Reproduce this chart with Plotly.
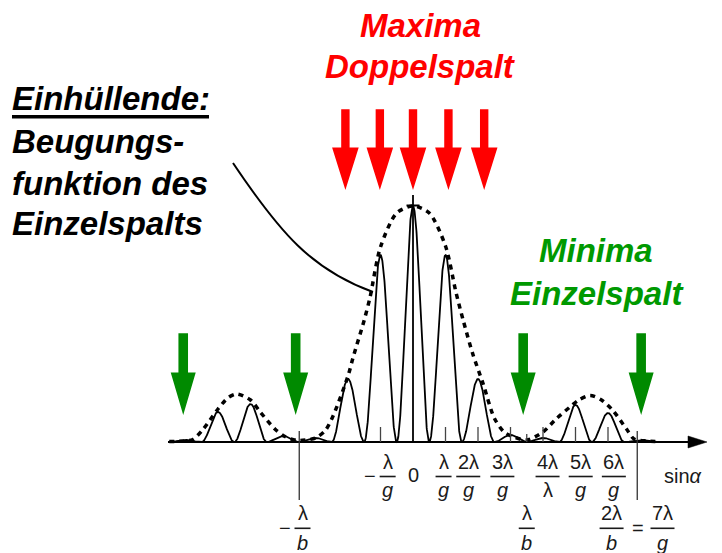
import numpy as np
import plotly.graph_objects as go

# ---------------- data ----------------
# horizontal unit: lambda/g (sin(alpha) * g / lambda); g/b = 3.5  ->  lambda/b = 3.5 lambda/g
fringe_order = [-7, -6, -5, -4, -3, -2, -1, 0, 1, 2, 3, 4, 5, 6, 7]
fringe_height = [2, 30, 38, 6, 4, 63, 187, 236, 187, 63, 7, 4, 37, 29, 2]

envelope_x = [-7.5, -7.0, -6.77, -6.45, -6.0, -5.7, -5.43, -5.0, -4.7, -4.25,
              -3.94, -3.58, -3.3, -3.0, -2.7, -2.46, -2.0, -1.84, -1.5, -1.32,
              -1.0, -0.5, 0.0, 0.5, 1.0, 1.32, 1.55, 1.84, 2.16, 2.5,
              2.8, 3.1, 3.5, 4.0, 4.4, 4.83, 5.1, 5.45, 5.8, 6.15,
              6.57, 6.8, 7.2, 7.5]
envelope_y = [0.5, 1, 2.5, 13, 33, 44, 48, 42, 30, 13,
              5.5, 1.5, 2, 4, 11.5, 26, 66, 85, 122, 145,
              195, 229, 236, 229, 196, 150, 121, 88, 58, 24,
              10, 5, 2, 10, 23, 35, 42, 46.5, 42, 31.5,
              13, 3, 1, 0.5]

tick_vals = [-1, 1, 2, 3, 4, 5, 6]
minima_lines = [-3.5, 6.9]          # -lambda/b and 2lambda/b = 7lambda/g
short_tick = [3.5]                   # lambda/b

red_arrow_x = [-2.08, -1.02, 0.0, 1.09, 2.19]     # maxima double slit
green_arrow_x = [-7.07, -3.61, 3.39, 7.02]        # minima single slit

upper_sign = ["\u2212", "", "", "", "", "", "", ""]
upper_num = ["\u03bb", "0", "\u03bb", "2\u03bb", "3\u03bb", "4\u03bb", "5\u03bb", "6\u03bb"]
upper_den = ["g", "", "g", "g", "g", "\u03bb", "g", "g"]
upper_pos = [-0.78, 0.03, 0.94, 1.70, 2.75, 4.14, 5.16, 6.18]

lower_sign = ["\u2212", "", ""]
lower_num = ["\u03bb", "\u03bb", "2\u03bb"]
lower_den = ["b", "b", "b"]
lower_pos = [-3.4, 3.50, 6.11]

# ---------------- geometry helpers (pixel <-> data) ----------------
X0, S, Y0 = 413.0, 32.5, 442.0
W, H = 722, 553
OFF = 8  # page body margin: figure pixel 0 sits at screen pixel 8


def U(px):
    return (px - X0) / S


def V(py):
    return Y0 - py


FONT = "Liberation Sans, Arial, sans-serif"

fig = go.Figure()

# solid intensity curve: each fringe drawn as a cos^2 bump of its read height
xs = np.linspace(-7.5, 7.5, 3001)
ys = np.zeros_like(xs)
for k, h in zip(fringe_order, fringe_height):
    m = np.abs(xs - k) <= 0.5
    ys[m] = h * np.cos(np.pi * (xs[m] - k)) ** 2
fig.add_trace(go.Scatter(x=xs, y=ys, mode="lines",
                         line=dict(color="black", width=1.8), hoverinfo="skip"))

# dashed envelope
fig.add_trace(go.Scatter(x=envelope_x, y=envelope_y, mode="lines",
                         line=dict(color="black", width=3.5, dash="5px,5px",
                                   shape="spline", smoothing=0.8),
                         hoverinfo="skip"))

shapes = []
# horizontal axis with arrow
shapes.append(dict(type="line", x0=U(168), x1=U(692), y0=0, y1=0,
                   line=dict(color="black", width=2)))
shapes.append(dict(type="path",
                   path=f"M {U(707)},0 L {U(688)},6 L {U(688)},-6 Z",
                   fillcolor="black", line=dict(color="black", width=0.5)))
for t in tick_vals:
    shapes.append(dict(type="line", x0=t, x1=t, y0=0, y1=15,
                       line=dict(color="#444", width=1.3)))
for t in short_tick:
    shapes.append(dict(type="line", x0=t, x1=t, y0=0, y1=8,
                       line=dict(color="#444", width=1.3)))
for t in minima_lines:
    shapes.append(dict(type="line", x0=t, x1=t, y0=11, y1=V(500),
                       line=dict(color="#333", width=1.3)))
# centre line with cross
shapes.append(dict(type="line", x0=0, x1=0, y0=0, y1=V(195),
                   line=dict(color="black", width=1.8)))
shapes.append(dict(type="line", x0=U(406.5), x1=U(419.5), y0=V(205.5), y1=V(205.5),
                   line=dict(color="black", width=2)))


def arrow(xc, top, head, tip, hw, HW, color):
    a, b = hw / S, HW / S
    p = (f"M {xc - a},{V(top)} L {xc + a},{V(top)} L {xc + a},{V(head)} "
         f"L {xc + b},{V(head)} L {xc},{V(tip)} L {xc - b},{V(head)} "
         f"L {xc - a},{V(head)} Z")
    return dict(type="path", path=p, fillcolor=color, line=dict(width=0))


for xc in red_arrow_x:
    shapes.append(arrow(xc, 109.3, 147.5, 190, 4.2, 13.3, "#FF0000"))
for xc in green_arrow_x:
    shapes.append(arrow(xc, 333.3, 372.5, 415, 4.8, 12.5, "#008A00"))

# underline of "Einhüllende"
shapes.append(dict(type="line", x0=U(12), x1=U(209), y0=V(116.7), y1=V(116.7),
                   line=dict(color="black", width=3.5)))
# leader curve
shapes.append(dict(type="path",
                   path=(f"M {U(233)},{V(163)} C {U(280)},{V(233)} "
                         f"{U(312)},{V(270)} {U(373)},{V(292)}"),
                   line=dict(color="black", width=2)))

ann = []


def txt(px, py_base, text, size, color="black", xanchor="center"):
    # place so that the baseline lands at py_base
    ann.append(dict(x=U(px), y=V(py_base - 0.3465 * size), text=text,
                    xref="x", yref="y", showarrow=False, xanchor=xanchor,
                    yanchor="middle", font=dict(family=FONT, size=size, color=color)))


BIG = 33
txt(420.5, 36.7, "<b><i>Maxima</i></b>", BIG, "#FF0000")
txt(420.0, 78.3, "<b><i>Doppelspalt</i></b>", BIG, "#FF0000")
txt(596.0, 262.3, "<b><i>Minima</i></b>", BIG, "#009900")
txt(596.5, 305.0, "<b><i>Einzelspalt</i></b>", BIG, "#009900")
txt(10.0, 110.0, "<b><i>Einhüllende:</i></b>", BIG, "black", "left")
txt(10.0, 152.7, "<b><i>Beugungs-</i></b>", BIG, "black", "left")
txt(10.0, 195.0, "<b><i>funktion des</i></b>", BIG, "black", "left")
txt(10.0, 235.0, "<b><i>Einzelspalts</i></b>", BIG, "black", "left")

LBL = 20
LC = "#1a1a1a"


def fraction(xu, sign, num, den, base_num, bar_y, base_den):
    px = X0 + xu * S
    if den == "":
        txt(px, base_num + 13, num, LBL, LC)
        return
    txt(px, base_num, num, LBL, LC)
    wbar = 8 + 8 * len(num)
    shapes.append(dict(type="line", x0=U(px - wbar / 2), x1=U(px + wbar / 2),
                       y0=V(bar_y), y1=V(bar_y), line=dict(color=LC, width=1.6)))
    den_txt = den if den == "\u03bb" else f"<i>{den}</i>"
    txt(px, base_den, den_txt, LBL, LC)
    if sign:
        txt(px - wbar / 2 - 10, bar_y + 6.5, sign, LBL, LC)


for s_, n_, d_, p_ in zip(upper_sign, upper_num, upper_den, upper_pos):
    fraction(p_, s_, n_, d_, 469.3, 476.5, 497.0)
for s_, n_, d_, p_ in zip(lower_sign, lower_num, lower_den, lower_pos):
    fraction(p_, s_, n_, d_, 520.0, 528.3, 550.0)

# "= 7λ/g"
txt(637.5, 534.5, "=", LBL, LC)
fraction(U(662.5), "", "7\u03bb", "g", 520.0, 528.3, 550.0)
# axis label
txt(682.5, 483.3, "sin<i>\u03b1</i>", LBL, LC)

fig.update_layout(
    width=W, height=H, margin=dict(l=0, r=0, t=0, b=0),
    paper_bgcolor="white", plot_bgcolor="white", showlegend=False,
    xaxis=dict(range=[U(OFF), U(W + OFF)], visible=False, fixedrange=True),
    yaxis=dict(range=[V(H + OFF), V(OFF)], visible=False, fixedrange=True),
    shapes=shapes, annotations=ann,
)

fig.write_html("out.html")
